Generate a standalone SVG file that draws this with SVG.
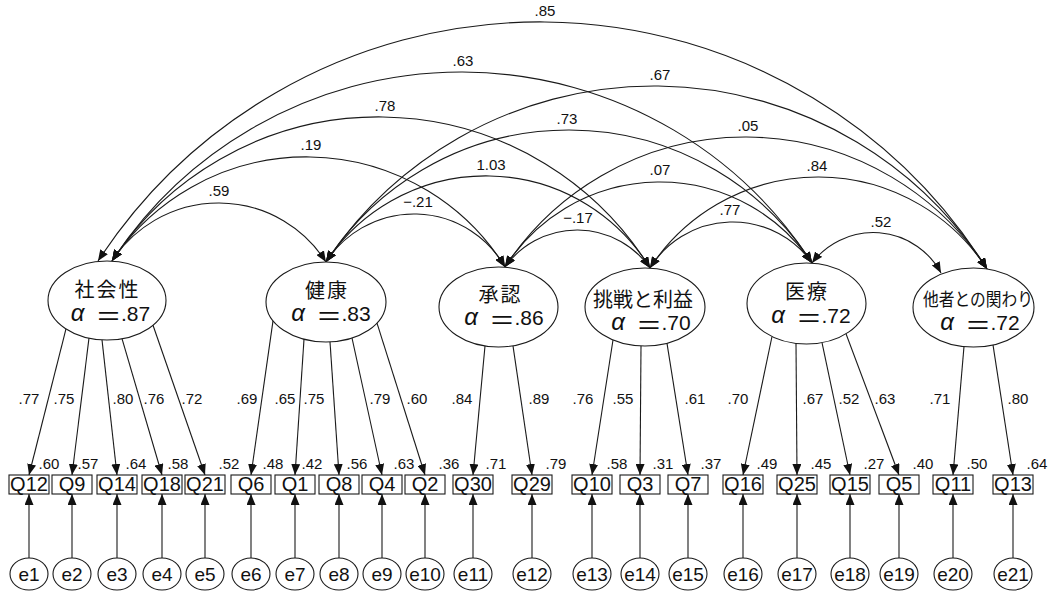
<svg xmlns="http://www.w3.org/2000/svg" width="1056" height="591" viewBox="0 0 1056 591">
<style>
.bg{fill:#fff}
.lat{fill:#fff;stroke:#1a1a1a;stroke-width:1.1}
.obs{fill:#fff;stroke:#1a1a1a;stroke-width:1.1}
.err{fill:#fff;stroke:#1a1a1a;stroke-width:1.1}
.ln{fill:none;stroke:#1a1a1a;stroke-width:1.1}
.dh{marker-start:url(#ah);marker-end:url(#ah)}
.sh{marker-end:url(#ah)}
text{font-family:"Liberation Sans","Noto Sans CJK JP",sans-serif;fill:#111}
.num{font-size:15px;text-anchor:middle}
.bl{font-size:20px;text-anchor:middle}
.el{font-size:19px;text-anchor:middle}
.nm{font-family:"Noto Sans CJK JP",sans-serif;font-size:20px;text-anchor:middle;letter-spacing:2px}
.al{font-style:italic;font-size:24px;text-anchor:middle}
.eq{font-family:"Noto Sans CJK JP",sans-serif;font-size:26px;text-anchor:middle}
.av{font-size:21px;text-anchor:start}
</style>
<defs>
<marker id="ah" viewBox="0 0 11 9" refX="11" refY="4.5" markerWidth="11" markerHeight="9" markerUnits="userSpaceOnUse" orient="auto-start-reverse"><path d="M0,0 L11,4.5 L0,9 z" fill="#111"/></marker>
</defs>
<rect class="bg" x="0" y="0" width="1056" height="591"/>

<g id="connectors">
 <g id="correlations">
  <path class="ln dh" d="M112,261 A127.1,127.1 0 0 1 326,262"/>
  <path class="ln dh" d="M112,261 A233.9,233.9 0 0 1 505,267"/>
  <path class="ln dh" d="M112,261 A319,319 0 0 1 650,268"/>
  <path class="ln dh" d="M112,261 A417.4,417.4 0 0 1 812,263"/>
  <path class="ln dh" d="M98,261 A528,528 0 0 1 987,269"/>
  <path class="ln dh" d="M326,262 A104.6,104.6 0 0 1 505,267"/>
  <path class="ln dh" d="M326,262 A191.9,191.9 0 0 1 650,268"/>
  <path class="ln dh" d="M326,262 A289.1,289.1 0 0 1 812,263"/>
  <path class="ln dh" d="M326,262 A394,394 0 0 1 987,269"/>
  <path class="ln dh" d="M505,267 A88.8,88.8 0 0 1 650,268"/>
  <path class="ln dh" d="M505,267 A183.4,183.4 0 0 1 812,263"/>
  <path class="ln dh" d="M505,267 A287.2,287.2 0 0 1 987,269"/>
  <path class="ln dh" d="M650,268 A97.2,97.2 0 0 1 812,263"/>
  <path class="ln dh" d="M650,268 A200.9,200.9 0 0 1 987,269"/>
  <path class="ln dh" d="M812,263 A76.9,76.9 0 0 1 941,273"/>
 </g>
 <g id="corr-labels">
  <text class="num" x="545" y="16">.85</text>
  <text class="num" x="463" y="66">.63</text>
  <text class="num" x="660" y="80">.67</text>
  <text class="num" x="385" y="111">.78</text>
  <text class="num" x="567" y="124">.73</text>
  <text class="num" x="748" y="131">.05</text>
  <text class="num" x="311" y="150">.19</text>
  <text class="num" x="491" y="170">1.03</text>
  <text class="num" x="817" y="171">.84</text>
  <text class="num" x="660" y="175">.07</text>
  <text class="num" x="219" y="196">.59</text>
  <text class="num" x="418" y="207">−.21</text>
  <text class="num" x="730" y="215">.77</text>
  <text class="num" x="578" y="223">−.17</text>
  <text class="num" x="881" y="227">.52</text>
 </g>
 <g id="loadings">
  <line class="ln sh" x1="66" y1="328.9" x2="29" y2="475"/>
  <line class="ln sh" x1="89" y1="338.1" x2="72" y2="475"/>
  <line class="ln sh" x1="102" y1="339.9" x2="117" y2="475"/>
  <line class="ln sh" x1="122" y1="338.7" x2="162" y2="475"/>
  <line class="ln sh" x1="153" y1="325.2" x2="205" y2="475"/>
  <line class="ln sh" x1="273" y1="320.8" x2="251" y2="475"/>
  <line class="ln sh" x1="304" y1="339.2" x2="295" y2="475"/>
  <line class="ln sh" x1="330" y1="341.9" x2="339" y2="475"/>
  <line class="ln sh" x1="352" y1="338" x2="382" y2="475"/>
  <line class="ln sh" x1="377" y1="323.1" x2="425" y2="475"/>
  <line class="ln sh" x1="485" y1="346" x2="473" y2="475"/>
  <line class="ln sh" x1="513" y1="345.8" x2="532" y2="475"/>
  <line class="ln sh" x1="613" y1="340" x2="592" y2="475"/>
  <line class="ln sh" x1="641" y1="345.9" x2="640" y2="475"/>
  <line class="ln sh" x1="667" y1="343.3" x2="688" y2="475"/>
  <line class="ln sh" x1="772" y1="336.5" x2="743" y2="475"/>
  <line class="ln sh" x1="796" y1="343.4" x2="797" y2="475"/>
  <line class="ln sh" x1="822" y1="342.6" x2="850" y2="475"/>
  <line class="ln sh" x1="846" y1="333.8" x2="899" y2="475"/>
  <line class="ln sh" x1="964" y1="346.5" x2="953" y2="475"/>
  <line class="ln sh" x1="993" y1="344.9" x2="1013" y2="475"/>
 </g>
 <g id="loading-labels">
  <text class="num" x="29" y="404">.77</text>
  <text class="num" x="64" y="404">.75</text>
  <text class="num" x="123" y="404">.80</text>
  <text class="num" x="154" y="404">.76</text>
  <text class="num" x="192" y="404">.72</text>
  <text class="num" x="247" y="404">.69</text>
  <text class="num" x="285" y="404">.65</text>
  <text class="num" x="314" y="404">.75</text>
  <text class="num" x="380" y="404">.79</text>
  <text class="num" x="417" y="404">.60</text>
  <text class="num" x="462" y="404">.84</text>
  <text class="num" x="539" y="404">.89</text>
  <text class="num" x="583" y="404">.76</text>
  <text class="num" x="623" y="404">.55</text>
  <text class="num" x="695" y="404">.61</text>
  <text class="num" x="738" y="404">.70</text>
  <text class="num" x="813" y="404">.67</text>
  <text class="num" x="849" y="404">.52</text>
  <text class="num" x="885" y="404">.63</text>
  <text class="num" x="940" y="404">.71</text>
  <text class="num" x="1018" y="404">.80</text>
 </g>
 <g id="error-paths">
  <line class="ln sh" x1="29" y1="558" x2="29" y2="494"/>
  <line class="ln sh" x1="72" y1="558" x2="72" y2="494"/>
  <line class="ln sh" x1="117" y1="558" x2="117" y2="494"/>
  <line class="ln sh" x1="162" y1="558" x2="162" y2="494"/>
  <line class="ln sh" x1="205" y1="558" x2="205" y2="494"/>
  <line class="ln sh" x1="251" y1="558" x2="251" y2="494"/>
  <line class="ln sh" x1="295" y1="558" x2="295" y2="494"/>
  <line class="ln sh" x1="339" y1="558" x2="339" y2="494"/>
  <line class="ln sh" x1="382" y1="558" x2="382" y2="494"/>
  <line class="ln sh" x1="425" y1="558" x2="425" y2="494"/>
  <line class="ln sh" x1="473" y1="558" x2="473" y2="494"/>
  <line class="ln sh" x1="532" y1="558" x2="532" y2="494"/>
  <line class="ln sh" x1="592" y1="558" x2="592" y2="494"/>
  <line class="ln sh" x1="640" y1="558" x2="640" y2="494"/>
  <line class="ln sh" x1="688" y1="558" x2="688" y2="494"/>
  <line class="ln sh" x1="743" y1="558" x2="743" y2="494"/>
  <line class="ln sh" x1="797" y1="558" x2="797" y2="494"/>
  <line class="ln sh" x1="850" y1="558" x2="850" y2="494"/>
  <line class="ln sh" x1="899" y1="558" x2="899" y2="494"/>
  <line class="ln sh" x1="953" y1="558" x2="953" y2="494"/>
  <line class="ln sh" x1="1013" y1="558" x2="1013" y2="494"/>
 </g>
</g>

<g id="latent-shakaisei"><ellipse class="lat" cx="107" cy="300.5" rx="59" ry="39.5"/><text class="nm" x="107.5" y="297">社会性</text><text y="321"><tspan class="al" x="77.5">α</tspan><tspan class="eq" x="108.5" dy="5">＝</tspan><tspan class="av" x="121" dy="-5">.87</tspan></text></g>
<g id="latent-kenkou"><ellipse class="lat" cx="326" cy="302" rx="60" ry="40"/><text class="nm" x="327" y="298">健康</text><text y="321"><tspan class="al" x="298">α</tspan><tspan class="eq" x="329" dy="5">＝</tspan><tspan class="av" x="341.5" dy="-5">.83</tspan></text></g>
<g id="latent-shounin"><ellipse class="lat" cx="498.5" cy="307" rx="59.5" ry="40"/><text class="nm" x="500.5" y="302">承認</text><text y="325"><tspan class="al" x="471">α</tspan><tspan class="eq" x="502" dy="5">＝</tspan><tspan class="av" x="514.5" dy="-5">.86</tspan></text></g>
<g id="latent-chousen"><ellipse class="lat" cx="645" cy="307" rx="60" ry="39"/><text class="nm" x="643" y="307" style="font-size:20px;letter-spacing:0">挑戦と利益</text><text y="330"><tspan class="al" x="618">α</tspan><tspan class="eq" x="649" dy="5">＝</tspan><tspan class="av" x="661.5" dy="-5">.70</tspan></text></g>
<g id="latent-iryou"><ellipse class="lat" cx="806.5" cy="303.5" rx="59.5" ry="40.5"/><text class="nm" x="807" y="299">医療</text><text y="323"><tspan class="al" x="778">α</tspan><tspan class="eq" x="809" dy="5">＝</tspan><tspan class="av" x="821.5" dy="-5">.72</tspan></text></g>
<g id="latent-tasha"><ellipse class="lat" cx="973.5" cy="307.5" rx="60.5" ry="39.5"/><text class="nm" x="978" y="306" style="font-size:18px;letter-spacing:0" textLength="110" lengthAdjust="spacingAndGlyphs">他者との関わり</text><text y="330"><tspan class="al" x="947">α</tspan><tspan class="eq" x="978" dy="5">＝</tspan><tspan class="av" x="990.5" dy="-5">.72</tspan></text></g>

<g id="obs-Q12"><rect class="obs" x="9" y="475" width="40" height="19"/><text class="bl" x="29" y="491">Q12</text><text class="num" x="49" y="469">.60</text></g>
<g id="obs-Q9"><rect class="obs" x="52" y="475" width="40" height="19"/><text class="bl" x="72" y="491">Q9</text><text class="num" x="88" y="469">.57</text></g>
<g id="obs-Q14"><rect class="obs" x="97" y="475" width="40" height="19"/><text class="bl" x="117" y="491">Q14</text><text class="num" x="136" y="469">.64</text></g>
<g id="obs-Q18"><rect class="obs" x="142" y="475" width="40" height="19"/><text class="bl" x="162" y="491">Q18</text><text class="num" x="178" y="469">.58</text></g>
<g id="obs-Q21"><rect class="obs" x="185" y="475" width="40" height="19"/><text class="bl" x="205" y="491">Q21</text><text class="num" x="229" y="469">.52</text></g>
<g id="obs-Q6"><rect class="obs" x="231" y="475" width="40" height="19"/><text class="bl" x="251" y="491">Q6</text><text class="num" x="273" y="469">.48</text></g>
<g id="obs-Q1"><rect class="obs" x="275" y="475" width="40" height="19"/><text class="bl" x="295" y="491">Q1</text><text class="num" x="312" y="469">.42</text></g>
<g id="obs-Q8"><rect class="obs" x="319" y="475" width="40" height="19"/><text class="bl" x="339" y="491">Q8</text><text class="num" x="357" y="469">.56</text></g>
<g id="obs-Q4"><rect class="obs" x="362" y="475" width="40" height="19"/><text class="bl" x="382" y="491">Q4</text><text class="num" x="404" y="469">.63</text></g>
<g id="obs-Q2"><rect class="obs" x="405" y="475" width="40" height="19"/><text class="bl" x="425" y="491">Q2</text><text class="num" x="449" y="469">.36</text></g>
<g id="obs-Q30"><rect class="obs" x="453" y="475" width="40" height="19"/><text class="bl" x="473" y="491">Q30</text><text class="num" x="496" y="469">.71</text></g>
<g id="obs-Q29"><rect class="obs" x="512" y="475" width="40" height="19"/><text class="bl" x="532" y="491">Q29</text><text class="num" x="556" y="469">.79</text></g>
<g id="obs-Q10"><rect class="obs" x="572" y="475" width="40" height="19"/><text class="bl" x="592" y="491">Q10</text><text class="num" x="617" y="469">.58</text></g>
<g id="obs-Q3"><rect class="obs" x="620" y="475" width="40" height="19"/><text class="bl" x="640" y="491">Q3</text><text class="num" x="663" y="469">.31</text></g>
<g id="obs-Q7"><rect class="obs" x="668" y="475" width="40" height="19"/><text class="bl" x="688" y="491">Q7</text><text class="num" x="711" y="469">.37</text></g>
<g id="obs-Q16"><rect class="obs" x="723" y="475" width="40" height="19"/><text class="bl" x="743" y="491">Q16</text><text class="num" x="767" y="469">.49</text></g>
<g id="obs-Q25"><rect class="obs" x="777" y="475" width="40" height="19"/><text class="bl" x="797" y="491">Q25</text><text class="num" x="821" y="469">.45</text></g>
<g id="obs-Q15"><rect class="obs" x="830" y="475" width="40" height="19"/><text class="bl" x="850" y="491">Q15</text><text class="num" x="874" y="469">.27</text></g>
<g id="obs-Q5"><rect class="obs" x="879" y="475" width="40" height="19"/><text class="bl" x="899" y="491">Q5</text><text class="num" x="923" y="469">.40</text></g>
<g id="obs-Q11"><rect class="obs" x="933" y="475" width="40" height="19"/><text class="bl" x="953" y="491">Q11</text><text class="num" x="977" y="469">.50</text></g>
<g id="obs-Q13"><rect class="obs" x="993" y="475" width="40" height="19"/><text class="bl" x="1013" y="491">Q13</text><text class="num" x="1037" y="469">.64</text></g>

<g id="err-e1"><ellipse class="err" cx="29" cy="574" rx="19" ry="16"/><text class="el" x="29" y="581">e1</text></g>
<g id="err-e2"><ellipse class="err" cx="72" cy="574" rx="19" ry="16"/><text class="el" x="72" y="581">e2</text></g>
<g id="err-e3"><ellipse class="err" cx="117" cy="574" rx="19" ry="16"/><text class="el" x="117" y="581">e3</text></g>
<g id="err-e4"><ellipse class="err" cx="162" cy="574" rx="19" ry="16"/><text class="el" x="162" y="581">e4</text></g>
<g id="err-e5"><ellipse class="err" cx="205" cy="574" rx="19" ry="16"/><text class="el" x="205" y="581">e5</text></g>
<g id="err-e6"><ellipse class="err" cx="251" cy="574" rx="19" ry="16"/><text class="el" x="251" y="581">e6</text></g>
<g id="err-e7"><ellipse class="err" cx="295" cy="574" rx="19" ry="16"/><text class="el" x="295" y="581">e7</text></g>
<g id="err-e8"><ellipse class="err" cx="339" cy="574" rx="19" ry="16"/><text class="el" x="339" y="581">e8</text></g>
<g id="err-e9"><ellipse class="err" cx="382" cy="574" rx="19" ry="16"/><text class="el" x="382" y="581">e9</text></g>
<g id="err-e10"><ellipse class="err" cx="425" cy="574" rx="19" ry="16"/><text class="el" x="425" y="581">e10</text></g>
<g id="err-e11"><ellipse class="err" cx="473" cy="574" rx="19" ry="16"/><text class="el" x="473" y="581">e11</text></g>
<g id="err-e12"><ellipse class="err" cx="532" cy="574" rx="19" ry="16"/><text class="el" x="532" y="581">e12</text></g>
<g id="err-e13"><ellipse class="err" cx="592" cy="574" rx="19" ry="16"/><text class="el" x="592" y="581">e13</text></g>
<g id="err-e14"><ellipse class="err" cx="640" cy="574" rx="19" ry="16"/><text class="el" x="640" y="581">e14</text></g>
<g id="err-e15"><ellipse class="err" cx="688" cy="574" rx="19" ry="16"/><text class="el" x="688" y="581">e15</text></g>
<g id="err-e16"><ellipse class="err" cx="743" cy="574" rx="19" ry="16"/><text class="el" x="743" y="581">e16</text></g>
<g id="err-e17"><ellipse class="err" cx="797" cy="574" rx="19" ry="16"/><text class="el" x="797" y="581">e17</text></g>
<g id="err-e18"><ellipse class="err" cx="850" cy="574" rx="19" ry="16"/><text class="el" x="850" y="581">e18</text></g>
<g id="err-e19"><ellipse class="err" cx="899" cy="574" rx="19" ry="16"/><text class="el" x="899" y="581">e19</text></g>
<g id="err-e20"><ellipse class="err" cx="953" cy="574" rx="19" ry="16"/><text class="el" x="953" y="581">e20</text></g>
<g id="err-e21"><ellipse class="err" cx="1013" cy="574" rx="19" ry="16"/><text class="el" x="1013" y="581">e21</text></g>
</svg>
